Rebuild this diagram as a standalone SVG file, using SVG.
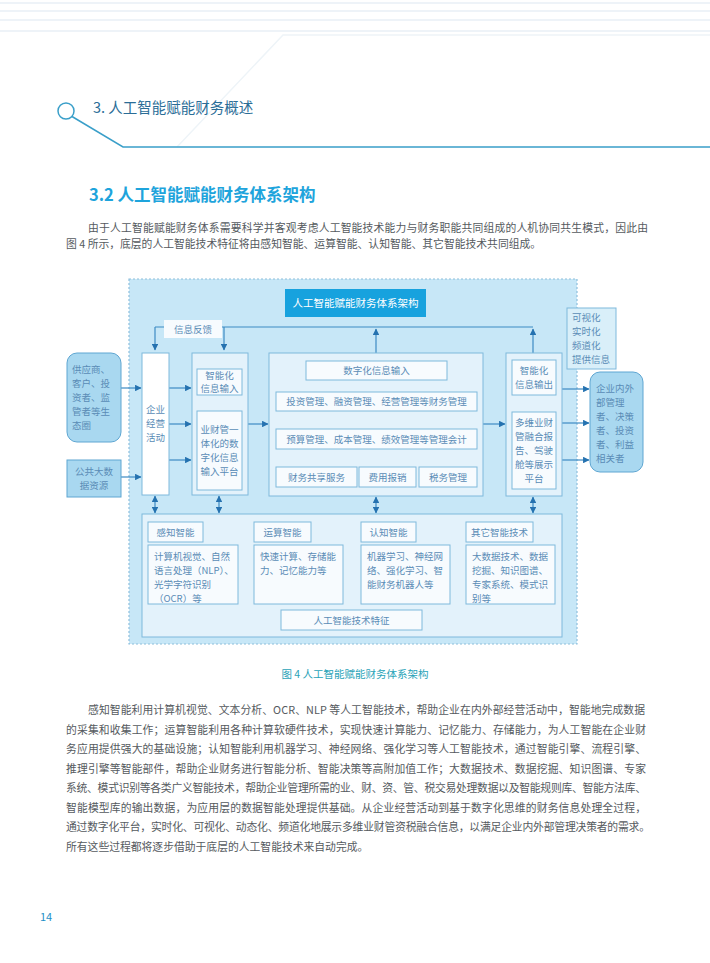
<svg xmlns="http://www.w3.org/2000/svg" width="710" height="963" viewBox="0 0 710 963">
<defs>
<style>
text{font-family:"Noto Sans CJK SC","Noto Sans",sans-serif;}
.para{font-size:10.8px;fill:#555a5e;}
.d{font-size:9.5px;fill:#5a8cb6;}
.dc{font-size:9.5px;fill:#5a8cb6;text-anchor:middle;}
.sm{font-size:9.5px;fill:#5a8cb6;text-anchor:middle;}
.col{fill:#e3f2fb;stroke:#7fb9dc;stroke-width:1;}
.wb{fill:#f7fbfe;stroke:#7fb9dc;stroke-width:1;}
.ext{fill:#a9d8f0;stroke:#5ea6d2;stroke-width:1;}
.ln{fill:none;stroke:#3d8bc3;stroke-width:1.2;}
.ar{fill:none;stroke:#3d8bc3;stroke-width:1.2;marker-end:url(#ah);}
.da{fill:none;stroke:#3d8bc3;stroke-width:1.2;marker-end:url(#ah);marker-start:url(#ah);}
</style>
<marker id="ah" viewBox="0 0 6 6" refX="5.5" refY="3" markerWidth="6.5" markerHeight="6.5" markerUnits="userSpaceOnUse" orient="auto-start-reverse">
<path d="M0,0 L6,3 L0,6 z" fill="#2572b0"/>
</marker>
</defs>
<rect x="0" y="0" width="710" height="963" fill="#ffffff"/>

<g id="header">
<line x1="0" y1="3" x2="710" y2="3" stroke="#eef3f8" stroke-width="2"/>
<line x1="0" y1="11" x2="710" y2="11" stroke="#eef3f8" stroke-width="2"/>
<line x1="0" y1="20" x2="710" y2="20" stroke="#eef3f8" stroke-width="2"/>
<line x1="0" y1="31" x2="710" y2="31" stroke="#eef3f8" stroke-width="2"/>
<path d="M177,147 L283,35 H710" fill="none" stroke="#eef4f8" stroke-width="1.5"/>
<circle cx="66" cy="111" r="8" fill="none" stroke="#3a9fc9" stroke-width="1.5"/>
<path d="M72,116.5 L123,147 H710" fill="none" stroke="#3a9fc9" stroke-width="1.5"/>
<text x="93" y="113" style="font-size:14.5px;fill:#2b6d97;">3. 人工智能赋能财务概述</text>
<text x="89" y="201" style="font-size:16.5px;font-weight:bold;fill:#1ea4dc;">3.2 人工智能赋能财务体系架构</text>
</g>

<g id="intro">
<text class="para" x="88" y="232" textLength="560" lengthAdjust="spacing">由于人工智能赋能财务体系需要科学并客观考虑人工智能技术能力与财务职能共同组成的人机协同共生模式，因此由</text>
<text class="para" x="66" y="248">图 4 所示，底层的人工智能技术特征将由感知智能、运算智能、认知智能、其它智能技术共同组成。</text>
</g>

<g id="frame">
<rect x="129" y="279" width="448" height="365" fill="#c7e7f7" stroke="#8ebfdc" stroke-width="1.2" stroke-dasharray="2,2"/>
</g>

<g id="title">
<rect x="285" y="289" width="141" height="28" fill="#17a2de"/>
<text x="355.5" y="307" style="font-size:10.5px;fill:#ffffff;text-anchor:middle;">人工智能赋能财务体系架构</text>
</g>

<g id="connectors">
<path class="ln" d="M155,327 H533"/>
<path class="ar" d="M155,327 V350"/>
<path class="ar" d="M224,327 V350"/>
<path class="ar" d="M376,353 V329"/>
<path class="ar" d="M533,353 V329"/>
<path class="ar" d="M121,388 H141"/>
<path class="ar" d="M121,477 H141"/>
<path class="ar" d="M169,388 H191"/>
<path class="ar" d="M169,424 H191"/>
<path class="ar" d="M169,460 H191"/>
<path class="ar" d="M248,424 H268"/>
<path class="ar" d="M483,424 H505"/>
<path class="ar" d="M562,389 H589"/>
<path class="ar" d="M562,423 H589"/>
<path class="ar" d="M562,460 H589"/>
<path class="da" d="M376,412 V428"/>
<path class="da" d="M376,450 V466"/>
<path class="da" d="M155,496 V513"/>
<path class="da" d="M219,496 V513"/>
<path class="da" d="M376,497 V513"/>
<path class="da" d="M533,497 V513"/>
<path class="da" d="M239,570 H253"/>
<path class="da" d="M344,570 H360"/>
<path class="da" d="M451,570 H465"/>
</g>

<g id="feedback">
<rect x="164" y="320" width="58" height="18" fill="#f7fbfe"/>
<text class="dc" x="193" y="332.5">信息反馈</text>
</g>

<g id="stakeholders">
<rect class="ext" x="67" y="353" width="54" height="89" rx="10"/>
<text class="d" x="72" y="372.8">供应商、</text>
<text class="d" x="72" y="386.8">客户、投</text>
<text class="d" x="72" y="400.8">资者、监</text>
<text class="d" x="72" y="414.8">管者等生</text>
<text class="d" x="72" y="428.8">态圈</text>
</g>

<g id="bigdata">
<rect class="ext" x="67" y="460" width="54" height="37"/>
<text class="dc" x="94" y="474.8">公共大数</text>
<text class="dc" x="94" y="488.8">据资源</text>
</g>

<g id="business">
<rect x="142" y="353" width="27" height="142" fill="#ffffff" stroke="#7fb9dc"/>
<text class="dc" x="155.5" y="413.3">企业</text>
<text class="dc" x="155.5" y="427.3">经营</text>
<text class="dc" x="155.5" y="441.3">活动</text>
</g>

<g id="input">
<rect class="col" x="192" y="353" width="56" height="142"/>
<rect class="wb" x="197" y="369" width="45" height="26"/>
<text class="dc" x="219.5" y="378.8">智能化</text>
<text class="dc" x="219.5" y="391.8">信息输入</text>
<rect class="wb" x="197" y="411" width="45" height="79"/>
<text class="dc" x="219.5" y="433.3">业财管一</text>
<text class="dc" x="219.5" y="447.3">体化的数</text>
<text class="dc" x="219.5" y="461.3">字化信息</text>
<text class="dc" x="219.5" y="475.3">输入平台</text>
</g>

<g id="finance">
<rect class="col" x="269" y="353" width="214" height="143"/>
<rect class="wb" x="306" y="361" width="141" height="19"/>
<text class="sm" x="376.5" y="374">数字化信息输入</text>
<rect class="wb" x="276" y="392" width="201" height="19"/>
<text class="sm" x="376.5" y="405">投资管理、融资管理、经营管理等财务管理</text>
<rect class="wb" x="276" y="429" width="201" height="20"/>
<text class="sm" x="376.5" y="442.5">预算管理、成本管理、绩效管理等管理会计</text>
<rect class="wb" x="276" y="467" width="81" height="20"/>
<text class="sm" x="316.5" y="480.5">财务共享服务</text>
<rect class="wb" x="359" y="467" width="57" height="20"/>
<text class="sm" x="387.5" y="480.5">费用报销</text>
<rect class="wb" x="419" y="467" width="58" height="20"/>
<text class="sm" x="448" y="480.5">税务管理</text>
</g>

<g id="output">
<rect class="col" x="506" y="353" width="56" height="143"/>
<rect class="wb" x="512" y="360" width="44" height="35"/>
<text class="dc" x="534" y="373.8">智能化</text>
<text class="dc" x="534" y="387.8">信息输出</text>
<rect class="wb" x="512" y="412" width="44" height="77"/>
<text class="dc" x="534" y="425.8">多维业财</text>
<text class="dc" x="534" y="439.8">管融合报</text>
<text class="dc" x="534" y="453.8">告、驾驶</text>
<text class="dc" x="534" y="467.8">舱等展示</text>
<text class="dc" x="534" y="481.8">平台</text>
</g>

<g id="provide">
<rect x="567" y="308" width="49" height="61" fill="#d9eff9" stroke="#7fb9dc"/>
<text class="d" x="572" y="320.8">可视化</text>
<text class="d" x="572" y="334.8">实时化</text>
<text class="d" x="572" y="348.8">频道化</text>
<text class="d" x="572" y="362.8">提供信息</text>
</g>

<g id="managers">
<rect class="ext" x="590" y="372" width="53" height="100" rx="10"/>
<text class="d" x="596" y="391.8">企业内外</text>
<text class="d" x="596" y="405.8">部管理</text>
<text class="d" x="596" y="419.8">者、决策</text>
<text class="d" x="596" y="433.8">者、投资</text>
<text class="d" x="596" y="447.8">者、利益</text>
<text class="d" x="596" y="461.8">相关者</text>
</g>

<g id="aitech">
<rect class="col" x="142" y="514" width="420" height="123"/>
<rect class="wb" x="281" y="610" width="141" height="20"/>
<text class="sm" x="351.5" y="623.5">人工智能技术特征</text>
</g>

<g id="perception">
<rect class="wb" x="148" y="522" width="55" height="20"/>
<text class="sm" x="175.5" y="535.5">感知智能</text>
<rect class="wb" x="148" y="545" width="90" height="59"/>
<text class="d" x="154" y="560.3">计算机视觉、自然</text>
<text class="d" x="154" y="574.3">语言处理（NLP）、</text>
<text class="d" x="154" y="588.3">光学字符识别</text>
<text class="d" x="154" y="602.3">（OCR）等</text>
</g>

<g id="computing">
<rect class="wb" x="254" y="522" width="57" height="20"/>
<text class="sm" x="282.5" y="535.5">运算智能</text>
<rect class="wb" x="254" y="545" width="89" height="59"/>
<text class="d" x="260" y="560.3">快速计算、存储能</text>
<text class="d" x="260" y="574.3">力、记忆能力等</text>
</g>

<g id="cognition">
<rect class="wb" x="361" y="522" width="55" height="20"/>
<text class="sm" x="388.5" y="535.5">认知智能</text>
<rect class="wb" x="361" y="545" width="89" height="59"/>
<text class="d" x="367" y="560.3">机器学习、神经网</text>
<text class="d" x="367" y="574.3">络、强化学习、智</text>
<text class="d" x="367" y="588.3">能财务机器人等</text>
</g>

<g id="other">
<rect class="wb" x="466" y="522" width="67" height="20"/>
<text class="sm" x="499.5" y="535.5">其它智能技术</text>
<rect class="wb" x="466" y="545" width="89" height="59"/>
<text class="d" x="472" y="560.3">大数据技术、数据</text>
<text class="d" x="472" y="574.3">挖掘、知识图谱、</text>
<text class="d" x="472" y="588.3">专家系统、模式识</text>
<text class="d" x="472" y="602.3">别等</text>
</g>

<g id="caption">
<text x="355" y="678" style="font-size:10.5px;fill:#2aa3b8;text-anchor:middle;">图 4 人工智能赋能财务体系架构</text>
</g>

<g id="body">
<text class="para" x="88" y="714" textLength="557" lengthAdjust="spacing">感知智能利用计算机视觉、文本分析、OCR、NLP 等人工智能技术，帮助企业在内外部经营活动中，智能地完成数据</text>
<text class="para" x="66" y="733.5" textLength="580" lengthAdjust="spacing">的采集和收集工作；运算智能利用各种计算软硬件技术，实现快速计算能力、记忆能力、存储能力，为人工智能在企业财</text>
<text class="para" x="66" y="753" textLength="580" lengthAdjust="spacing">务应用提供强大的基础设施；认知智能利用机器学习、神经网络、强化学习等人工智能技术，通过智能引擎、流程引擎、</text>
<text class="para" x="66" y="772.5" textLength="580" lengthAdjust="spacing">推理引擎等智能部件，帮助企业财务进行智能分析、智能决策等高附加值工作；大数据技术、数据挖掘、知识图谱、专家</text>
<text class="para" x="66" y="792" textLength="580" lengthAdjust="spacing">系统、模式识别等各类广义智能技术，帮助企业管理所需的业、财、资、管、税交易处理数据以及智能规则库、智能方法库、</text>
<text class="para" x="66" y="811.5" textLength="580" lengthAdjust="spacing">智能模型库的输出数据，为应用层的数据智能处理提供基础。从企业经营活动到基于数字化思维的财务信息处理全过程，</text>
<text class="para" x="66" y="831" textLength="584" lengthAdjust="spacing">通过数字化平台，实时化、可视化、动态化、频道化地展示多维业财管资税融合信息，以满足企业内外部管理决策者的需求。</text>
<text class="para" x="66" y="850.5">所有这些过程都将逐步借助于底层的人工智能技术来自动完成。</text>
</g>

<g id="pagenum">
<text x="40" y="921" style="font-size:11px;fill:#1e90c8;">14</text>
</g>
</svg>
